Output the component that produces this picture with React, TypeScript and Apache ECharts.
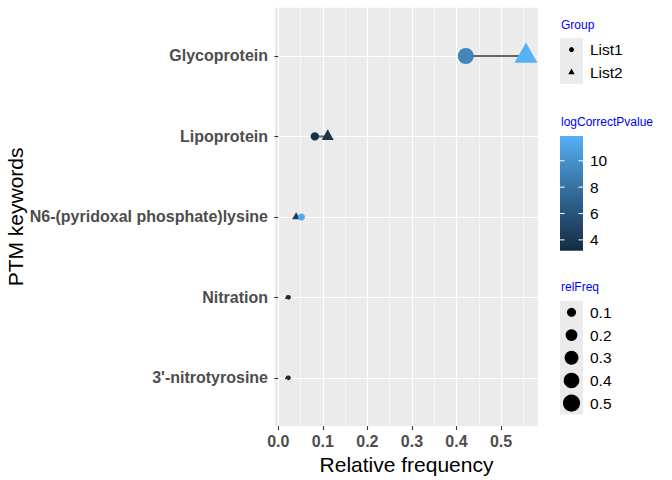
import React, { useEffect, useRef } from "react";
import * as echarts from "echarts";

const CATEGORIES = [
  "Glycoprotein",
  "Lipoprotein",
  "N6-(pyridoxal phosphate)lysine",
  "Nitration",
  "3'-nitrotyrosine",
];
const LIST1_FREQ = [0.421, 0.082, 0.052, 0.023, 0.023];
const LIST2_FREQ = [0.556, 0.111, 0.04, 0.0194, 0.0194];
const LIST1_LOGP = [9.2, 3.6, 11.4, 3.3, 3.3];
const LIST2_LOGP = [11.88, 3.8, 4.5, 3.18, 3.2];

const X_TICKS = [0, 0.1, 0.2, 0.3, 0.4, 0.5];
const X_MINOR = [0.05, 0.15, 0.25, 0.35, 0.45, 0.55];
const Y_TICKS = [1, 2, 3, 4, 5];
const COLOR_TICKS = [4, 6, 8, 10];
const SIZE_BREAKS = [0.1, 0.2, 0.3, 0.4, 0.5];
const GROUPS = ["List1", "List2"];
const GRADIENT = ["#132B43", "#234B6E", "#336A98", "#448DC6", "#56B1F7"];

const FONT = "Liberation Sans, Arial, sans-serif";

export default function App() {
  const ref = useRef<HTMLDivElement>(null);
  useEffect(() => {
    const chart = echarts.init(ref.current!, null, { renderer: "svg" });
    const allFreq = [...LIST1_FREQ, ...LIST2_FREQ];
    const fMin = Math.min(...allFreq);
    const fMax = Math.max(...allFreq);
    const allP = [...LIST1_LOGP, ...LIST2_LOGP];
    const pMin = Math.min(...allP);
    const pMax = Math.max(...allP);
    const diam = (v: number) =>
      2.9 * (1 + 5 * Math.sqrt(Math.max(0, v - fMin) / (fMax - fMin))) + 0.5;

    const segSeries = CATEGORIES.map((c, i) => ({
      type: "line",
      name: "seg" + i,
      data: [
        [LIST1_FREQ[i], i + 1],
        [LIST2_FREQ[i], i + 1],
      ],
      showSymbol: false,
      symbol: "none",
      lineStyle: { color: "#666666", width: 2 },
      silent: true,
      z: 2,
    }));

    const list1Data = CATEGORIES.map((c, i) => [LIST1_FREQ[i], i + 1, LIST1_LOGP[i]]);
    const list2Data = CATEGORIES.map((c, i) => [LIST2_FREQ[i], i + 1, LIST2_LOGP[i]]);

    // legends
    const lx = 560;
    const kw = 23;
    const kh = 22.7;
    const graphics: any[] = [];
    // Group legend
    graphics.push({
      type: "text",
      left: lx + 1,
      top: 19,
      style: { text: "Group", fill: "#0000FF", font: `12px ${FONT}` },
    });
    graphics.push({
      type: "rect",
      shape: { x: lx, y: 38.3, width: kw, height: kh * GROUPS.length },
      style: { fill: "#EBEBEB" },
    });
    GROUPS.forEach((g, i) => {
      const cy = 38.3 + kh * i + kh / 2;
      if (i === 0) {
        graphics.push({
          type: "circle",
          shape: { cx: lx + kw / 2, cy, r: 2.5 },
          style: { fill: "#000" },
        });
      } else {
        const w = 6.4;
        const h = 5.6;
        graphics.push({
          type: "polygon",
          shape: {
            points: [
              [lx + kw / 2, cy - h * 0.667],
              [lx + kw / 2 + w / 2, cy + h * 0.333],
              [lx + kw / 2 - w / 2, cy + h * 0.333],
            ],
          },
          style: { fill: "#000" },
        });
      }
      graphics.push({
        type: "text",
        x: lx + 30,
        y: cy,
        style: {
          text: g,
          fill: "#000",
          font: `15.5px ${FONT}`,
          verticalAlign: "middle",
        },
      });
    });

    // colorbar
    const cbTop = 136;
    const cbH = 114.7;
    graphics.push({
      type: "text",
      left: lx + 1,
      top: 115.5,
      style: { text: "logCorrectPvalue", fill: "#0000FF", font: `12px ${FONT}` },
    });
    graphics.push({
      type: "rect",
      shape: { x: lx, y: cbTop, width: kw, height: cbH },
      style: {
        fill: {
          type: "linear",
          x: 0,
          y: 1,
          x2: 0,
          y2: 0,
          colorStops: GRADIENT.map((c, i) => ({ offset: i / (GRADIENT.length - 1), color: c })),
        },
      },
    });
    COLOR_TICKS.forEach((v) => {
      const y = cbTop + cbH - ((v - pMin) / (pMax - pMin)) * cbH;
      graphics.push({
        type: "line",
        shape: { x1: lx, y1: y, x2: lx + 4.6, y2: y },
        style: { stroke: "#fff", lineWidth: 1 },
      });
      graphics.push({
        type: "line",
        shape: { x1: lx + kw - 4.6, y1: y, x2: lx + kw, y2: y },
        style: { stroke: "#fff", lineWidth: 1 },
      });
      graphics.push({
        type: "text",
        x: lx + 30,
        y,
        style: { text: String(v), fill: "#000", font: `15.5px ${FONT}`, verticalAlign: "middle" },
      });
    });

    // size legend
    const sTop = 301;
    graphics.push({
      type: "text",
      left: lx + 1,
      top: 281,
      style: { text: "relFreq", fill: "#0000FF", font: `12px ${FONT}` },
    });
    graphics.push({
      type: "rect",
      shape: { x: lx, y: sTop, width: kw, height: kh * SIZE_BREAKS.length },
      style: { fill: "#EBEBEB" },
    });
    SIZE_BREAKS.forEach((v, i) => {
      const cy = sTop + kh * i + kh / 2;
      graphics.push({
        type: "circle",
        shape: { cx: lx + kw / 2, cy, r: diam(v) / 2 },
        style: { fill: "#000" },
      });
      graphics.push({
        type: "text",
        x: lx + 30,
        y: cy,
        style: { text: v.toFixed(1), fill: "#000", font: `15.5px ${FONT}`, verticalAlign: "middle" },
      });
    });

    const option: any = {
      animation: false,
      backgroundColor: "#fff",
      grid: {
        left: 275,
        top: 7.7,
        width: 263,
        height: 418.6,
        show: true,
        backgroundColor: "#EBEBEB",
        borderWidth: 0,
      },
      xAxis: [
        {
          type: "value",
          min: -0.0074,
          max: 0.583,
          position: "bottom",
          axisLine: { show: false },
          axisTick: {
            show: true,
            customValues: X_TICKS,
            length: 4,
            lineStyle: { color: "#333333", width: 1.1 },
          },
          axisLabel: {
            customValues: X_TICKS,
            formatter: (v: number) => v.toFixed(1),
            fontFamily: FONT,
            fontWeight: "bold",
            fontSize: 16,
            color: "#4D4D4D",
            margin: 7,
          },
          splitLine: { show: true, lineStyle: { color: "#FFFFFF", width: 1.2 } },
          name: "Relative frequency",
          nameLocation: "middle",
          nameGap: 25,
          nameTextStyle: { fontFamily: FONT, fontSize: 21, color: "#000" },
        },
        {
          type: "value",
          min: -0.0074,
          max: 0.583,
          position: "top",
          axisLine: { show: false },
          axisTick: { show: false, customValues: X_MINOR },
          axisLabel: { show: false, customValues: X_MINOR },
          splitLine: { show: true, lineStyle: { color: "#FFFFFF", width: 0.6 } },
        },
      ],
      yAxis: {
        type: "value",
        min: 0.4,
        max: 5.6,
        inverse: true,
        axisLine: { show: false },
        axisTick: {
          show: true,
          customValues: Y_TICKS,
          length: 4,
          lineStyle: { color: "#333333", width: 1.1 },
        },
        axisLabel: {
          customValues: Y_TICKS,
          formatter: (v: number) => CATEGORIES[Math.round(v) - 1] ?? "",
          fontFamily: FONT,
          fontWeight: "bold",
          fontSize: 16,
          color: "#4D4D4D",
          margin: 7,
        },
        splitLine: { show: true, lineStyle: { color: "#FFFFFF", width: 1.2 } },
        name: "PTM keywords",
        nameLocation: "middle",
        nameRotate: 90,
        nameGap: 248,
        nameTextStyle: { fontFamily: FONT, fontSize: 21, color: "#000" },
      },
      visualMap: {
        show: false,
        type: "continuous",
        seriesIndex: [CATEGORIES.length, CATEGORIES.length + 1],
        dimension: 2,
        min: pMin,
        max: pMax,
        inRange: { color: GRADIENT },
      },
      series: [
        ...segSeries,
        {
          type: "scatter",
          name: "List2",
          data: list2Data,
          symbol: "triangle",
          symbolSize: (val: number[]) => {
            const d = diam(val[0]);
            return [1.28 * d, 1.13 * d];
          },
          symbolOffset: [0, "-16.7%"],
          itemStyle: { opacity: 1 },
          z: 3,
        },
        {
          type: "scatter",
          name: "List1",
          data: list1Data,
          symbol: "circle",
          symbolSize: (val: number[]) => diam(val[0]),
          itemStyle: { opacity: 1 },
          z: 4,
        },
      ],
      graphic: graphics,
    };
    chart.setOption(option);
    return () => chart.dispose();
  }, []);
  return (
    <div
      ref={ref}
      style={{ position: "fixed", left: 0, top: 0, width: 672, height: 480 }}
    />
  );
}
